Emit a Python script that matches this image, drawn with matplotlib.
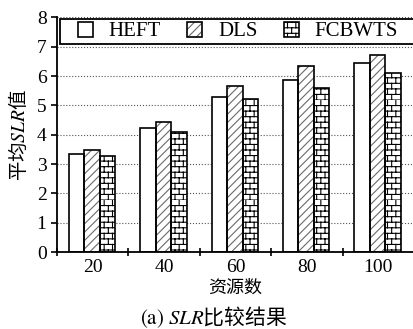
import numpy as np
import matplotlib

matplotlib.use('Agg')
import matplotlib.pyplot as plt
from matplotlib import hatch as mhatch
from matplotlib.path import Path
from matplotlib.patches import Rectangle

# data
resources = ['20', '40', '60', '80', '100']
algos = ['HEFT', 'DLS', 'FCBWTS']
heft = [3.33, 4.22, 5.28, 5.87, 6.44]
dls = [3.47, 4.45, 5.67, 6.34, 6.71]
fcbwts = [3.27, 4.10, 5.21, 5.61, 6.09]


class BrickHatch(mhatch.HatchPatternBase):
    # brick wall pattern, takes the place of the 'o' hatch
    def __init__(self, hatch, density):
        self.num_rows = hatch.count('o') * density
        self.num_cols = self.num_rows * 2 // 3
        self.num_vertices = self.num_rows * 2 + self.num_rows * self.num_cols * 2

    def set_vertices_and_codes(self, vertices, codes):
        n, m = self.num_rows, self.num_cols
        k = 0
        for i in range(n):
            y0 = i / n
            y1 = (i + 1) / n
            vertices[k] = (0, y0)
            vertices[k + 1] = (1, y0)
            codes[k] = Path.MOVETO
            codes[k + 1] = Path.LINETO
            k += 2
            shift = 0.5 * (i % 2)
            for j in range(m):
                xx = (j + shift) / m
                vertices[k] = (xx, y0)
                vertices[k + 1] = (xx, y1)
                codes[k] = Path.MOVETO
                codes[k + 1] = Path.LINETO
                k += 2


mhatch._hatch_types = [BrickHatch if t is mhatch.SmallCircles else t
                       for t in mhatch._hatch_types]

plt.rcParams['font.family'] = ['Liberation Serif', 'Noto Sans CJK SC']
plt.rcParams['mathtext.fontset'] = 'stix'
plt.rcParams['hatch.linewidth'] = 0.8

fig = plt.figure(figsize=(4.14, 3.29), dpi=100)
ax = fig.add_axes([0.1377, 0.234, 0.8623, 0.713])

x = np.arange(len(resources))
w = 0.217
series = [heft, dls, fcbwts]
hatches = [None, '////', 'ooo']
hcolors = ['black', '#6a6a6a', 'black']
handles = []
for k in range(3):
    pos = x + (k - 1) * w - 0.01
    hb = ax.bar(pos, series[k], w, color='white', edgecolor=hcolors[k],
                hatch=hatches[k], linewidth=0, zorder=2)
    eb = ax.bar(pos, series[k], w, color='none', edgecolor='black',
                linewidth=1.2, zorder=3)
    handles.append((hb[0], eb[0]))

ax.set_xlim(-0.5, 4.5)
ax.set_ylim(0, 8)
ax.set_yticks(range(9))
ax.set_xticks(np.arange(-0.5, 5, 1.0))
ax.set_xticklabels([])
ax.set_xticks(x, minor=True)
ax.set_xticklabels(resources, minor=True)
ax.tick_params(axis='x', which='major', direction='inout', length=6, width=1.2)
ax.tick_params(axis='x', which='minor', length=0, pad=5, labelsize=14)
ax.tick_params(axis='y', direction='out', length=4, width=1.2, pad=3.5, labelsize=14)

ax.yaxis.grid(True, linestyle=':', color='#555555', linewidth=0.8)
ax.set_axisbelow(True)
for s in ['top', 'right']:
    ax.spines[s].set_visible(False)
for s in ['left', 'bottom']:
    ax.spines[s].set_linewidth(1.3)

ax.set_ylabel('平均$\\mathit{SLR}$值', family='Noto Sans CJK SC', fontsize=14)
ax.yaxis.set_label_coords(-0.077, 0.5)
ax.set_xlabel('资源数', family='Noto Sans CJK SC', fontsize=13, va='top')
ax.xaxis.set_label_coords(0.5, -0.115)

# legend box drawn by hand so the side padding can differ from the top one
box = Rectangle((0.008, 0.885), 0.999, 0.11, transform=ax.transAxes,
                facecolor='white', edgecolor='black', linewidth=1.3,
                clip_on=False, zorder=4)
ax.add_patch(box)
leg = ax.legend(handles, algos, loc='center left', ncol=3, mode='expand',
                bbox_to_anchor=(0.059, 0.885, 0.896, 0.11), borderaxespad=0,
                fontsize=15, handlelength=0.72, handleheight=0.72,
                handletextpad=0.75, borderpad=0, frameon=False)
leg.set_zorder(5)

fig.text(0.516, 0.036, '$\\mathrm{(a)\\ }\\mathit{SLR}$比较结果',
         family='Noto Sans CJK SC', fontsize=15, ha='center', va='center')

fig.savefig('out.png', dpi=100)
